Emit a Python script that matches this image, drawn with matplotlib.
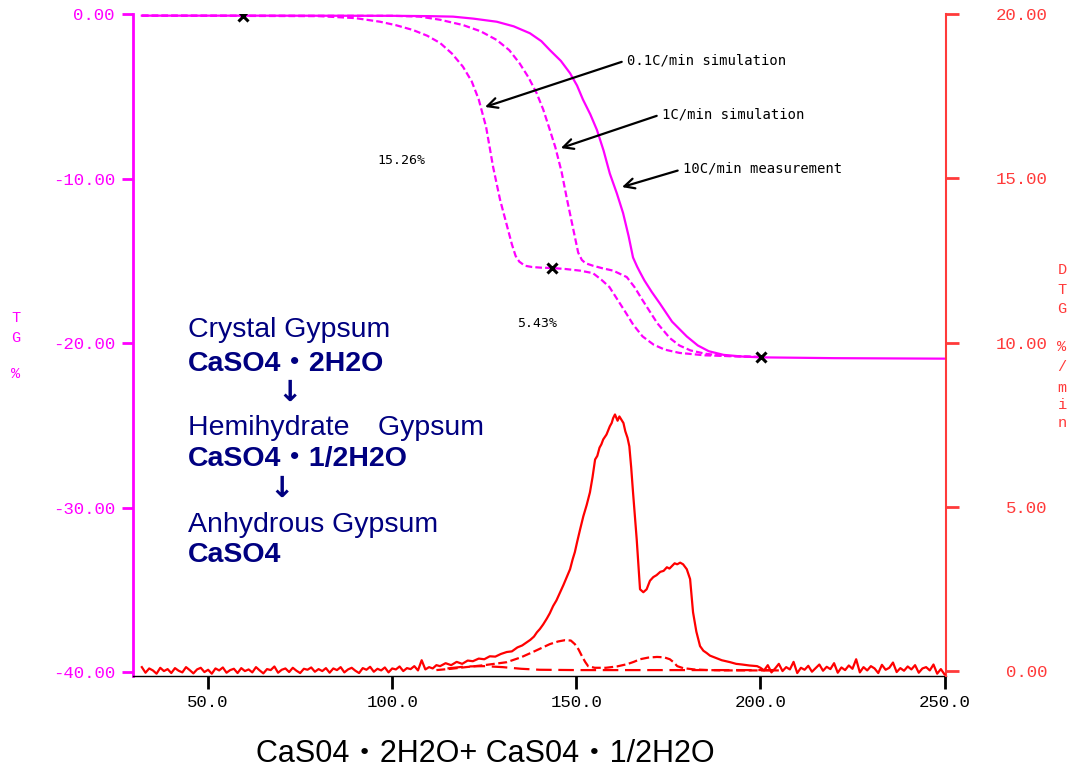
import numpy as np
import matplotlib
matplotlib.use("Agg")
import matplotlib.pyplot as plt

# ---------------- data ----------------
# TG curves (%), temperature in deg C
tg_meas_T = [32, 60, 100, 110, 116.5, 122, 128.4, 133, 137.4, 140.5, 142.8, 145.8, 148.3, 150.2, 151.8,
             153.8, 155.6, 157.4, 159.1, 161, 162.7, 164.2, 165.4, 166.5, 167.3, 168.5, 170.5, 172.7,
             176, 180, 183, 186, 190, 195, 200, 220, 250]
tg_meas = [-0.10, -0.10, -0.11, -0.13, -0.16, -0.28, -0.47, -0.75, -1.17, -1.65, -2.19, -2.85, -3.6,
           -4.35, -5.2, -6.1, -7.05, -8.3, -9.7, -10.9, -12.1, -13.5, -14.8, -15.35, -15.7, -16.2,
           -16.9, -17.6, -18.7, -19.6, -20.15, -20.5, -20.72, -20.82, -20.87, -20.92, -20.95]

tg_1c_T = [32, 100, 107.5, 113, 119.2, 124, 128.4, 131.8, 134.6, 137, 139.2, 141, 142.6, 144.3, 146,
           147.5, 149, 150.5, 151.5, 152.5, 154.5, 157, 160, 163.7, 165.8, 168, 170, 172, 175.4, 178,
           181, 185, 190, 200]
tg_1c = [-0.10, -0.11, -0.16, -0.35, -0.67, -1.05, -1.58, -2.2, -3.0, -3.85, -4.8, -5.8, -6.9, -8.1,
         -9.6, -11.3, -12.9, -14.5, -14.95, -15.15, -15.3, -15.45, -15.6, -15.99, -16.6, -17.4, -18.1,
         -18.8, -19.7, -20.15, -20.45, -20.65, -20.78, -20.85]

tg_01c_T = [32, 80, 90, 96.7, 101, 105.6, 109.5, 113, 116.2, 119.2, 121.6, 123.5, 125.5, 127.4, 129.3,
            131.2, 132.5, 133.5, 134.5, 136, 138, 140.5, 143.4, 147, 151, 154.5, 156.8, 159, 161, 163,
            165.5, 168, 171, 174, 178, 185, 200]
tg_01c = [-0.10, -0.13, -0.25, -0.47, -0.68, -0.97, -1.32, -1.76, -2.4, -3.2, -4.1, -5.2, -6.87, -9.3,
          -11.3, -12.9, -14.0, -14.7, -15.05, -15.3, -15.38, -15.42, -15.44, -15.5, -15.6, -15.75,
          -16.15, -16.6, -17.3, -18.0, -18.9, -19.6, -20.1, -20.4, -20.6, -20.75, -20.85]

marker_T = [59.4, 143.4, 200.2]
marker_tg = [-0.1, -15.44, -20.85]

# DTG measured (%/min): noisy baseline before, main peaks, noisy baseline after
dtg_base_left_start = 32
dtg_base_left = [0.12, -0.05, 0.08, 0.02, -0.08, 0.10, 0.00, 0.06, -0.06, 0.09, 0.01, -0.04, 0.12, 0.03,
                 -0.07, 0.05, 0.10, -0.03, 0.04, -0.08, 0.08, 0.02, 0.11, -0.05, 0.03, 0.07, -0.06, 0.09,
                 0.00, 0.05, -0.04, 0.12, 0.02, -0.07, 0.06, 0.03, 0.14, -0.05, 0.04, 0.08, -0.03, 0.10,
                 0.01, -0.06, 0.07, 0.04, 0.11, -0.02, 0.06, 0.00, 0.09, -0.05, 0.08, 0.03, 0.12, -0.04,
                 0.05, 0.10, 0.01, -0.06, 0.09, 0.04, 0.13, -0.02, 0.07, 0.02, 0.11, -0.04, 0.08, 0.05,
                 0.14, 0.00, 0.09, 0.06, 0.15, 0.02, 0.33, 0.05, 0.12, 0.08, 0.18]
dtg_peak_T = [113, 114.5, 116, 117.5, 119, 120.5, 121.9, 123.5, 125, 126.5, 128, 129.5, 131.1, 132.5, 134,
              135.3, 136.6, 137.5, 138.5, 139.3, 140.1, 141, 142, 142.8, 143.7, 144.6, 145.6, 146.5,
              147.5, 148.3, 149, 149.6, 150.2, 151, 151.9, 152.8, 153.7, 154.4, 155.1, 155.7, 156.3,
              156.8, 157.3, 158.2, 159.1, 159.6, 160, 160.5, 161.2, 161.7, 162.2, 162.8, 163.3, 163.9,
              164.4, 164.9, 165.4, 166.4, 167.3, 168.2, 169.1, 170, 170.9, 171.8, 172.8, 173.7, 174.6,
              175.3, 176, 176.7, 177.4, 178.2, 179, 180, 180.9, 181.7, 182.6, 183.6, 184.5, 185.4, 186.3,
              187.2, 188.3, 189.5, 190.6, 191.8, 193.4, 195, 197, 199.1]
dtg_peak = [0.15, 0.24, 0.18, 0.28, 0.22, 0.32, 0.30, 0.38, 0.36, 0.45, 0.44, 0.52, 0.58, 0.60, 0.72,
            0.78, 0.88, 0.95, 1.05, 1.18, 1.28, 1.42, 1.60, 1.76, 1.98, 2.15, 2.40, 2.62, 2.89, 3.10,
            3.40, 3.62, 3.92, 4.30, 4.71, 5.05, 5.44, 5.90, 6.44, 6.55, 6.80, 6.90, 7.05, 7.20, 7.45,
            7.55, 7.70, 7.81, 7.62, 7.75, 7.66, 7.55, 7.30, 7.10, 6.84, 6.20, 5.44, 4.01, 2.49, 2.40,
            2.49, 2.75, 2.86, 2.92, 3.02, 3.05, 3.16, 3.12, 3.20, 3.28, 3.25, 3.30, 3.25, 3.10, 2.80,
            1.79, 1.20, 0.76, 0.62, 0.55, 0.47, 0.43, 0.38, 0.33, 0.30, 0.27, 0.22, 0.20, 0.17, 0.15]
dtg_base_right_start = 200
dtg_base_right = [0.10, 0.02, 0.18, -0.04, 0.08, 0.22, 0.00, 0.12, 0.05, 0.28, -0.06, 0.10, 0.04, 0.16,
                  -0.02, 0.09, 0.20, 0.01, 0.13, 0.06, 0.24, -0.05, 0.11, 0.03, 0.17, 0.07, 0.36, -0.04,
                  0.12, 0.02, 0.15, 0.08, -0.06, 0.19, 0.04, 0.10, 0.26, -0.03, 0.09, 0.01, 0.14, 0.05,
                  0.18, -0.05, 0.08, 0.12, 0.02, 0.20, -0.08, 0.06, -0.10]

# DTG simulation 1C/min (two small bumps)
dtg_1c_T = [112, 116, 120, 125, 131.1, 135, 138.2, 140.5, 142.8, 145, 146.9, 148.5, 149.6, 150.6, 151.5,
            152.4, 153.2, 155, 158, 161, 163.8, 165.6, 167.3, 169.5, 171.9, 173.8, 175.4, 176.5, 177.4,
            179, 182, 186, 190, 205]
dtg_1c = [0.03, 0.07, 0.12, 0.18, 0.27, 0.42, 0.58, 0.70, 0.82, 0.90, 0.94, 0.93, 0.82, 0.66, 0.46,
          0.28, 0.15, 0.10, 0.10, 0.14, 0.21, 0.28, 0.36, 0.41, 0.43, 0.42, 0.36, 0.26, 0.15, 0.09,
          0.05, 0.03, 0.02, 0.02]

# DTG simulation 0.1C/min (almost flat)
dtg_01c_T = [115, 120, 125, 130, 135, 140, 150, 160, 170, 180, 190, 205]
dtg_01c = [0.08, 0.14, 0.15, 0.12, 0.07, 0.04, 0.03, 0.03, 0.03, 0.03, 0.03, 0.03]

x_ticks = [50, 100, 150, 200, 250]
tg_ticks = [-40, -30, -20, -10, 0]
dtg_ticks = [0, 5, 10, 15, 20]

# ---------------- figure ----------------
W, H = 1070, 767
fig = plt.figure(figsize=(W / 100, H / 100), dpi=100)
fig.patch.set_facecolor("white")

def fx(px):
    return px / W

def fy(py):
    return 1 - py / H

MAG = "#ff00ff"
RED = "#ff0000"
RED_AX = "#ff3a3a"
NAVY = "#000080"

ax = fig.add_axes([fx(133), fy(676), (946 - 133) / W, (676 - 14) / H])
ax2 = ax.twinx()

ax.set_xlim(29.6, 250.4)
ax.set_ylim(-40.24, 0)
ax2.set_ylim(-0.15, 20)

# TG curves
ax.plot(tg_meas_T, tg_meas, color=MAG, lw=1.6, zorder=3)
ax.plot(tg_1c_T, tg_1c, color=MAG, lw=1.6, dashes=(3, 1.4), zorder=3)
ax.plot(tg_01c_T, tg_01c, color=MAG, lw=1.6, dashes=(3, 1.4), zorder=3)
ax.plot(marker_T, marker_tg, ls="none", marker="x", ms=6.5, mew=2.2, color="black", zorder=5)

# DTG curves
T_left = np.arange(len(dtg_base_left)) + dtg_base_left_start
T_right = np.arange(len(dtg_base_right)) + dtg_base_right_start
dtg_T_all = np.concatenate([T_left, dtg_peak_T, T_right])
dtg_all = np.concatenate([dtg_base_left, dtg_peak, dtg_base_right])
ax2.plot(dtg_T_all, dtg_all, color=RED, lw=1.6, zorder=3)
ax2.plot(dtg_1c_T, dtg_1c, color=RED, lw=1.6, dashes=(4, 1.6), zorder=3)
ax2.plot(dtg_01c_T, dtg_01c, color=RED, lw=1.6, dashes=(7, 3), zorder=3)

# spines
for s in ["top", "right"]:
    ax.spines[s].set_visible(False)
ax.spines["left"].set_color(MAG)
ax.spines["left"].set_linewidth(2)
ax.spines["bottom"].set_color("black")
ax.spines["bottom"].set_linewidth(1)
for s in ["top", "left", "bottom"]:
    ax2.spines[s].set_visible(False)
ax2.spines["right"].set_color(RED_AX)
ax2.spines["right"].set_linewidth(1.5)

# ticks
ax.set_xticks(x_ticks)
ax.set_xticklabels([f"{v:.1f}" for v in x_ticks])
ax.set_yticks(tg_ticks)
ax.set_yticklabels([f"{v:.2f}" for v in tg_ticks])
ax2.set_yticks(dtg_ticks)
ax2.set_yticklabels([f"{v:.2f}" for v in dtg_ticks])

ax.tick_params(axis="x", colors="black", length=9, width=2, pad=5)
ax.tick_params(axis="y", colors=MAG, length=8, width=2, pad=5)
ax2.tick_params(axis="y", colors=RED_AX, length=9, width=2, pad=64)
for lbl in ax.get_xticklabels() + ax.get_yticklabels() + ax2.get_yticklabels():
    lbl.set_fontfamily("Liberation Mono")
    lbl.set_fontsize(12.5)
for lbl in ax2.get_yticklabels():
    lbl.set_horizontalalignment("right")

# axis labels as stacked letters
for ch, py in [("T", 318), ("G", 338), ("%", 374)]:
    fig.text(fx(16), fy(py), ch, color=MAG, family="Liberation Mono", fontsize=11,
             ha="center", va="center")
for ch, py in [("D", 270), ("T", 290), ("G", 309), ("%", 347), ("/", 367), ("m", 388), ("i", 405), ("n", 423)]:
    fig.text(fx(1062), fy(py), ch, color=RED_AX, family="Liberation Mono", fontsize=11,
             ha="center", va="center")

# annotations
ann_font = dict(family="DejaVu Sans Mono", fontsize=10, color="black")
arrow = dict(arrowstyle="->", lw=1.6, color="black", mutation_scale=18,
             relpos=(0, 0.5), shrinkA=2, shrinkB=0)
ax.annotate("0.1C/min simulation", xy=(125.2, -5.65), xytext=(163.8, -2.8),
            ha="left", va="center", arrowprops=arrow, **ann_font)
ax.annotate("1C/min simulation", xy=(145.8, -8.15), xytext=(173.3, -6.08),
            ha="left", va="center", arrowprops=arrow, **ann_font)
ax.annotate("10C/min measurement", xy=(162.4, -10.52), xytext=(179.0, -9.42),
            ha="left", va="center", arrowprops=arrow, **ann_font)
ax.text(96.1, -8.88, "15.26%", ha="left", va="center", family="DejaVu Sans Mono", fontsize=9.5)
ax.text(133.9, -18.8, "5.43%", ha="left", va="center", family="DejaVu Sans Mono", fontsize=9.5)

# reaction scheme text block
fam = ["Liberation Sans", "Noto Sans CJK JP", "DejaVu Sans"]
lines = [
    ("Crystal Gypsum", 337, "normal", 188),
    ("CaSO4\u30fb2H2O", 371, "bold", 188),
    ("Hemihydrate\u3000Gypsum", 435, "normal", 188),
    ("CaSO4\u30fb1/2H2O", 466, "bold", 188),
    ("Anhydrous Gypsum", 532, "normal", 188),
    ("CaSO4", 562, "bold", 188),
]
for txt, py, wt, px in lines:
    fig.text(fx(px), fy(py), txt, color=NAVY, family=fam, fontsize=20.5, fontweight=wt,
             ha="left", va="baseline")
for px, py in [(290, 393), (282, 489)]:
    fig.text(fx(px), fy(py), "\u2193", color=NAVY, family="DejaVu Sans", fontsize=21,
             fontweight="bold", ha="center", va="center")

# caption
fig.text(fx(485), fy(762), "CaS04\u30fb2H2O+ CaS04\u30fb1/2H2O", color="black",
         family=["Liberation Sans", "Noto Sans CJK JP"], fontsize=22, ha="center", va="baseline")

fig.savefig("out.png", dpi=100)
